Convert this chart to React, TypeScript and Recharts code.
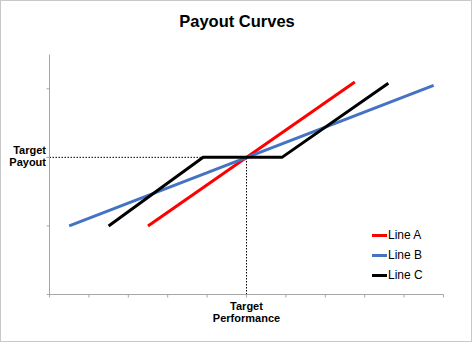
import { LineChart, Line, XAxis, YAxis, ReferenceLine, Legend } from 'recharts';

// x in performance units (0-10), y in payout units (0-3.5)
const lineAX = [2.5, 7.75];
const lineAY = [1, 3.1];
const lineBX = [0.5, 9.75];
const lineBY = [1, 3.05];
const lineCX = [1.5, 3.9, 5.9, 8.6];
const lineCY = [1, 2, 2, 3.08];

const xTicks = [0, 1, 2, 3, 4, 5, 6, 7, 8, 9, 10];
const yTicks = [0, 1, 2, 3];
const targetPerformance = 5;
const targetPayout = 2;

const FONT = '"Liberation Sans", Arial, sans-serif';
const AXIS = '#a6a6a6';

const zip = (xs: number[], ys: number[]) => xs.map((x, i) => ({ x, y: ys[i] }));

const series = [
    { name: 'Line A', color: '#ff0000', data: zip(lineAX, lineAY) },
    { name: 'Line B', color: '#4472c4', data: zip(lineBX, lineBY) },
    { name: 'Line C', color: '#000000', data: zip(lineCX, lineCY) },
];

const renderXTick = (props: any) => {
    const { x, y, payload } = props;
    if (payload.value !== targetPerformance) return <g />;
    return (
        <text x={x} textAnchor="middle" fontFamily={FONT} fontSize={11} fontWeight="bold" fill="#000">
            <tspan x={x} y={y + 10}>Target</tspan>
            <tspan x={x} y={y + 22.5}>Performance</tspan>
        </text>
    );
};

const renderYTick = (props: any) => {
    const { x, y, payload } = props;
    if (payload.value !== targetPayout) return <g />;
    return (
        <text textAnchor="end" fontFamily={FONT} fontSize={11} fontWeight="bold" fill="#000">
            <tspan x={x + 1.5} y={y - 3.5}>Target</tspan>
            <tspan x={x + 1.5} y={y + 8.5}>Payout</tspan>
        </text>
    );
};

const renderLegend = (props: any) => (
    <div style={{ fontFamily: FONT, fontSize: 12, color: '#000' }}>
        {props.payload.map((entry: any) => (
            <div key={entry.value} style={{ display: 'flex', alignItems: 'center', height: 20 }}>
                <div style={{ width: 15, height: 3, background: entry.color, marginRight: 1 }} />
                <span>{entry.value}</span>
            </div>
        ))}
    </div>
);

export default function App() {
    return (
        <div style={{ position: 'absolute', left: 0, top: 0, width: 474, height: 344, background: '#fff' }}>
            <div style={{ position: 'absolute', left: 0, top: 0, width: 472, height: 342, border: '1px solid #c8c8c8', boxSizing: 'border-box' }} />
            <div style={{ position: 'absolute', left: 0, top: 11, width: 474, textAlign: 'center', fontFamily: FONT, fontSize: 16.5, fontWeight: 'bold', lineHeight: '20px' }}>
                Payout Curves
            </div>
            <LineChart width={474} height={344} margin={{ top: 54.5, right: 30.5, bottom: 48.5, left: 48.5 }}>
                <XAxis
                    type="number"
                    dataKey="x"
                    domain={[0, 10]}
                    ticks={xTicks}
                    interval={0}
                    height={1}
                    tickSize={3}
                    stroke={AXIS}
                    tick={renderXTick}
                />
                <YAxis
                    type="number"
                    dataKey="y"
                    domain={[0, 3.5]}
                    ticks={yTicks}
                    interval={0}
                    width={1}
                    tickSize={3}
                    stroke={AXIS}
                    tick={renderYTick}
                />
                <ReferenceLine
                    segment={[{ x: 0, y: targetPayout }, { x: targetPerformance, y: targetPayout }]}
                    stroke="#000"
                    strokeDasharray="1.5 1.5"
                />
                <ReferenceLine
                    segment={[{ x: targetPerformance, y: 0 }, { x: targetPerformance, y: targetPayout }]}
                    stroke="#000"
                    strokeDasharray="1.5 1.5"
                />
                {series.map((s) => (
                    <Line
                        key={s.name}
                        name={s.name}
                        data={s.data}
                        dataKey="y"
                        stroke={s.color}
                        strokeWidth={3}
                        dot={false}
                        activeDot={false}
                        isAnimationActive={false}
                    />
                ))}
                <Legend
                    layout="vertical"
                    align="center"
                    verticalAlign="middle"
                    content={renderLegend}
                    wrapperStyle={{ left: 372, top: 225, width: 'auto', height: 'auto' }}
                />
            </LineChart>
        </div>
    );
}
